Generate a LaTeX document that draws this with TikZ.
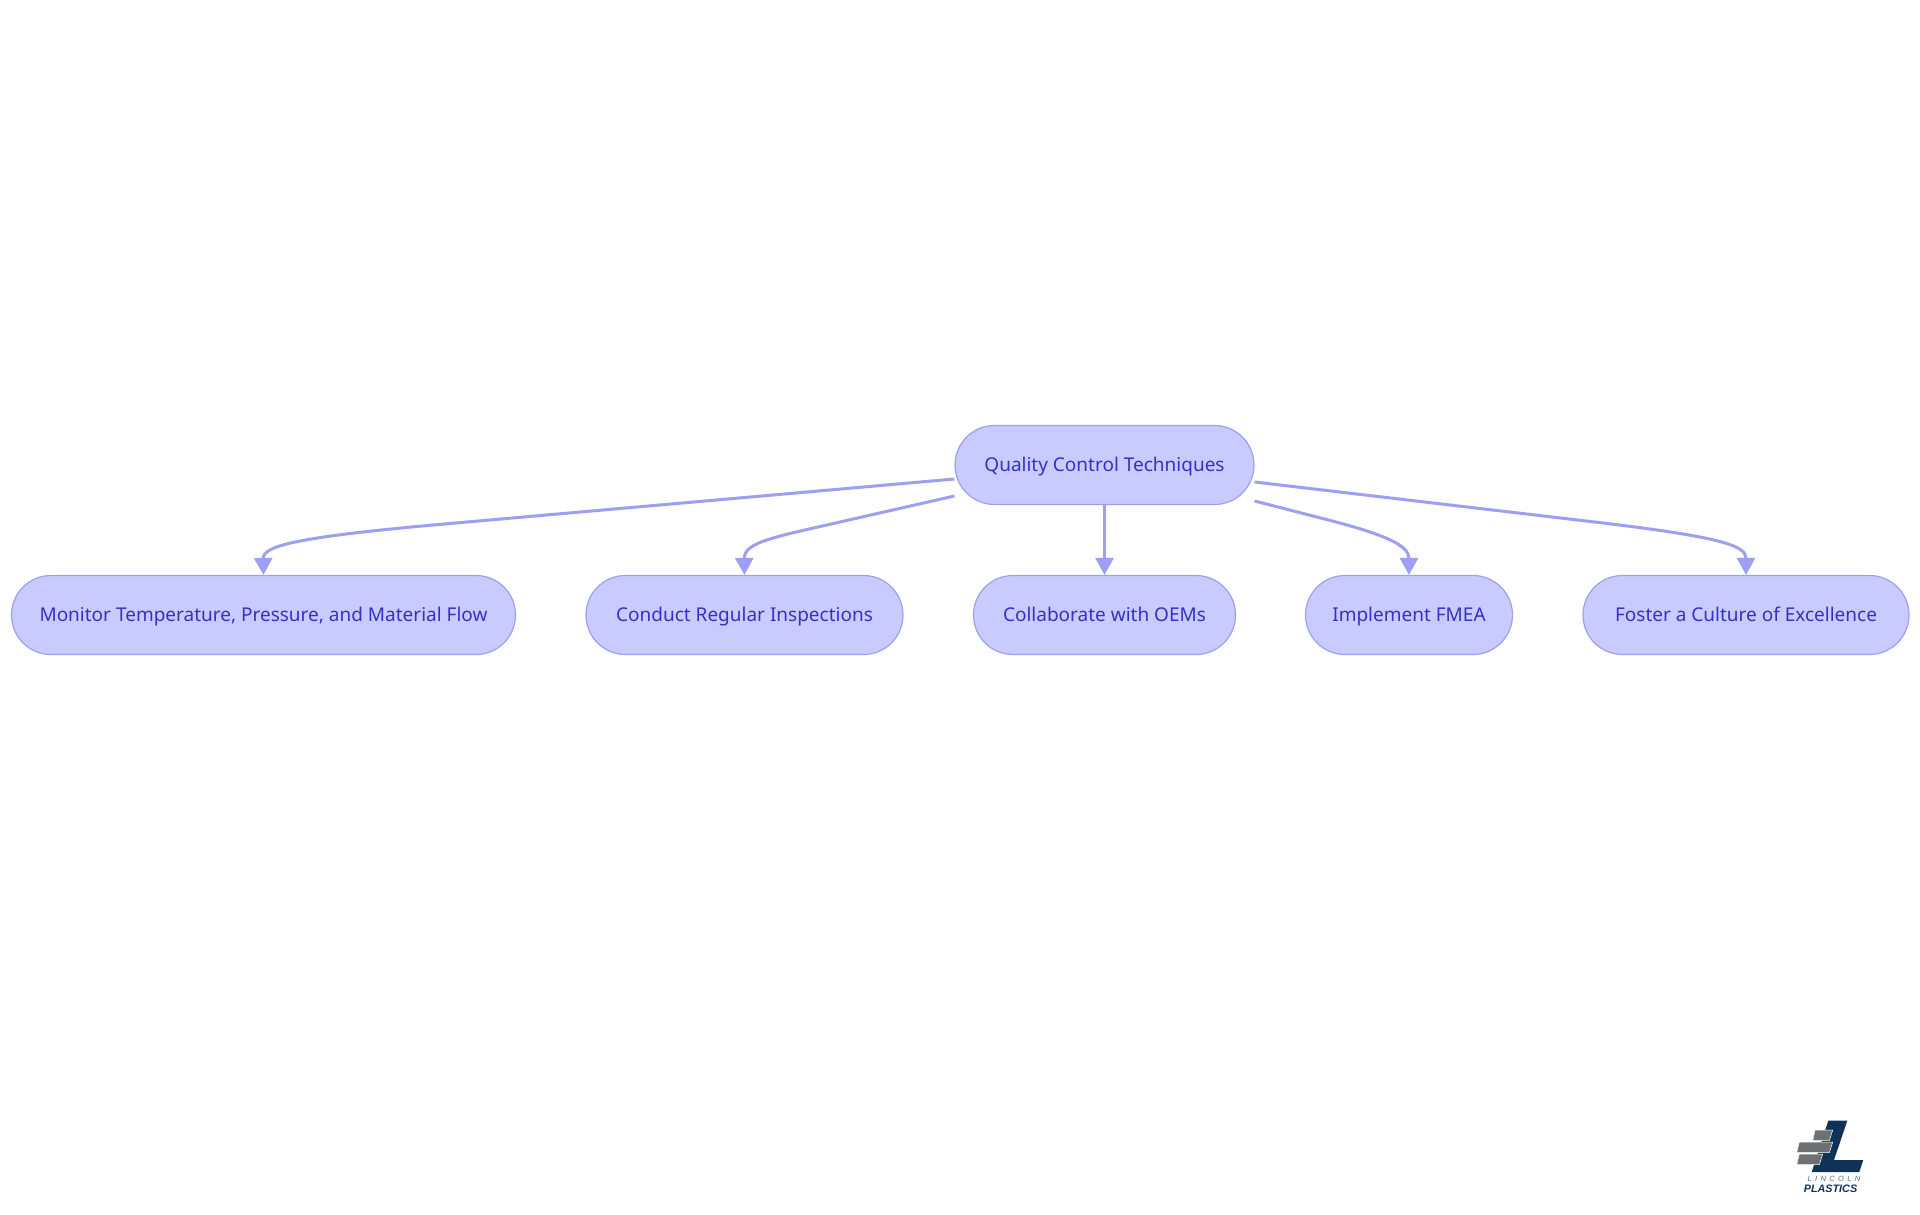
\documentclass[tikz,border=0pt]{standalone}
\usepackage{fontspec}
\setmainfont{Noto Sans}
\newfontfamily\logofont[LetterSpace=45]{Liberation Sans}
\newfontfamily\logobold{Liberation Sans}
\usetikzlibrary{arrows.meta}
\definecolor{nodefill}{HTML}{C9CBFF}
\definecolor{nodeline}{HTML}{9E9FF2}
\definecolor{nodetext}{HTML}{3232C8}
\definecolor{navy}{HTML}{0F3257}
\definecolor{brick}{HTML}{6F7073}
\tikzset{
  pill/.style={draw=nodeline,fill=nodefill,line width=1.2pt,rounded corners=39.5pt,minimum height=79pt,
    inner sep=0pt,text=nodetext,font=\fontsize{19}{23}\selectfont,text height=15.5pt,text depth=3pt,anchor=center},
  link/.style={draw=nodeline,line width=3pt,-{Triangle[length=17pt,width=18pt]}},
  brickshape/.style={fill=brick,draw=white,line width=0.5pt},
}
\begin{document}
\begin{tikzpicture}[x=1pt,y=-1pt]
\useasboundingbox (0,0) rectangle (1920,1215);
\fill[white] (0,0) rectangle (1920,1215);
\node[pill,minimum width=299pt] (root) at (1104.5,465) {Quality Control Techniques};
\node[pill,minimum width=504pt] (a) at (263.5,615) {Monitor Temperature, Pressure, and Material Flow};
\node[pill,minimum width=317pt] (b) at (744.5,615) {Conduct Regular Inspections};
\node[pill,minimum width=262pt] (c) at (1104.5,615) {Collaborate with OEMs};
\node[pill,minimum width=207pt] (d) at (1409,615) {Implement FMEA};
\node[pill,minimum width=326pt] (e) at (1746,615) {Foster a Culture of Excellence};
\draw[link] ([yshift=-14pt]root.west) -- +(-510,45) .. controls +(-150,13.2) and (263,546) .. (a.north);
\draw[link] ([yshift=-31pt]root.west) -- +(-110,25) .. controls +(-70,16) and (744,542) .. (b.north);
\draw[link] (root.south) -- (c.north);
\draw[link] ([yshift=-36pt]root.east) -- +(70,18) .. controls +(60,15.4) and (1409,545) .. (d.north);
\draw[link] ([yshift=-17pt]root.east) -- +(340,40) .. controls +(130,15.3) and (1746,546) .. (e.north);
% logo
\fill[navy] (1828.3,1120.7) -- (1847.3,1120.7) -- (1834,1160) -- (1863.3,1160) -- (1859.3,1172) -- (1811.7,1172) -- cycle;
\filldraw[brickshape] (1815,1130) -- (1832.7,1130) -- (1829.3,1140.7) -- (1812.7,1140.7) -- cycle;
\filldraw[brickshape] (1799.3,1142) -- (1832.7,1142) -- (1829.3,1152.7) -- (1796.7,1152.7) -- cycle;
\filldraw[brickshape] (1799.3,1154) -- (1822.7,1154) -- (1819.3,1164.7) -- (1796.7,1164.7) -- cycle;
\node[inner sep=0pt,text=navy!70,font=\logofont\fontsize{7.5}{8}\selectfont\itshape] (lincoln) at (1834,1178.5) {LINCOLN};
\node[inner sep=0pt,text=navy,font=\logobold\fontsize{10.8}{12}\selectfont\bfseries\itshape] (plastics) at (1830.5,1188.5) {PLASTICS};
\end{tikzpicture}
\end{document}
